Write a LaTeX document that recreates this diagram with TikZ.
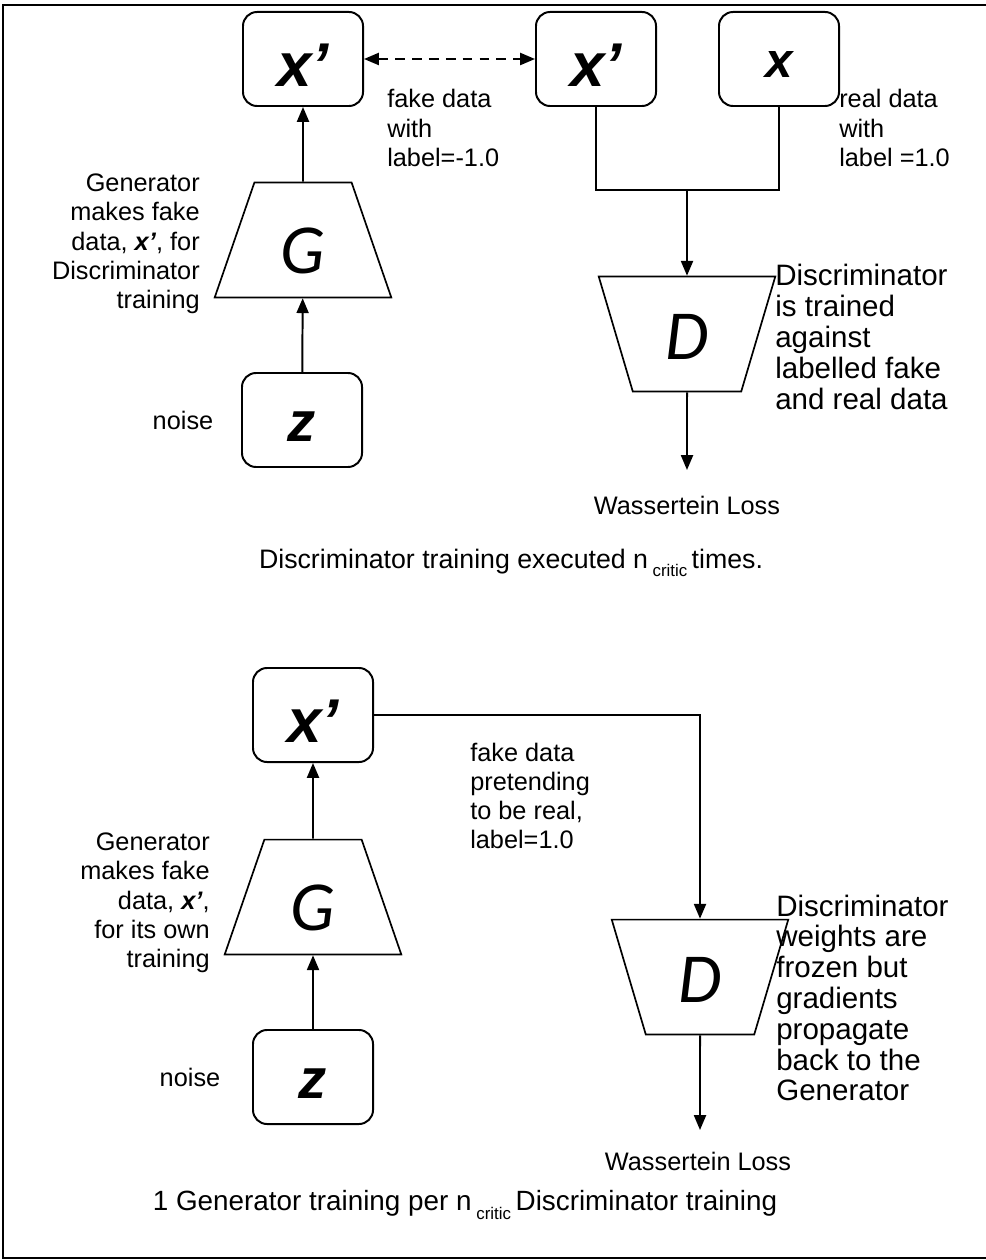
\documentclass[tikz,border=0pt]{standalone}
\usepackage{fontspec}
\setmainfont{Liberation Sans}
\newfontfamily\netfont{Carlito}
\usetikzlibrary{arrows.meta,positioning,shapes.geometric}
\tikzset{
  varbox/.style={draw,line width=1.4pt,rounded corners=10pt,minimum width=3cm,
    minimum height=2.35cm,inner sep=0pt,text depth=0pt,font=\bfseries\itshape},
  netbox/.style={draw,line width=1.2pt,trapezium,trapezium left angle=75,
    trapezium right angle=75,trapezium stretches=true,minimum width=4.43cm,
    minimum height=2.87cm,inner sep=0pt,text depth=0pt,font=\netfont\fontsize{50}{50}\selectfont\itshape},
  note/.style={inner sep=0pt,font=\fontsize{18}{20.8}\selectfont},
  bignote/.style={inner sep=0pt,font=\fontsize{21}{21.9}\selectfont},
  caption/.style={inner sep=0pt,font=\fontsize{19}{21}\selectfont},
  flowarrow/.style={-{Triangle[length=10.5pt,width=8.5pt]},line width=1.4pt},
  plainline/.style={line width=1.4pt}
}
\newcommand\bigx{\fontsize{44}{44}\selectfont}
\newcommand\midx{\fontsize{35}{35}\selectfont}
\newcommand\bigz{\fontsize{40}{40}\selectfont}
\newcommand\ncrit{n\,\raisebox{-0.55ex}{\fontsize{12}{12}\selectfont critic}\,}
\begin{document}
\begin{tikzpicture}[x=0.025cm,y=-0.025cm]
\useasboundingbox (0,0) rectangle (985,1260);
\draw[line width=1pt] (995,5) -- (3,5) -- (3,1258) -- (995,1258);
% discriminator training
\node[varbox,text height=39pt] (xfakeG) at (303,59) {\bigx x’};
\node[varbox,text height=39pt] (xfakeD) at (596,59) {\bigx x’};
\node[varbox,text height=26pt] (xreal) at (779,59) {\midx x};
\node[netbox,text height=48pt] (genA) at (303,240) {G};
\node[varbox,text height=30pt] (zA) at (302,420) {\bigz z};
\node[netbox,shape border rotate=180,text height=36pt] (discA) at (687,334) {D};
\coordinate (joinA) at (687,190);
\coordinate (outA) at (687,470);
\draw[flowarrow] (zA) -- (genA);
\draw[flowarrow] (genA) -- (xfakeG);
\draw[flowarrow,dash pattern=on 7pt off 5pt,{Triangle[length=10.5pt,width=8.5pt]}-{Triangle[length=10.5pt,width=8.5pt]}] (xfakeG) -- (xfakeD);
\draw[plainline] (xfakeD.south) |- (joinA) -| (xreal.south);
\draw[flowarrow] (joinA) -- (discA.north);
\draw[flowarrow] (discA.south) -- (outA);
\node[note,anchor=west,align=left] (fakeA) at (387,128) {fake data\\with\\label=-1.0};
\node[note,anchor=west,align=left] (realA) at (839,128) {real data\\with\\label =1.0};
\node[note,anchor=east,align=right] (genTextA) at (200,244) {Generator\\makes fake\\data, \textbf{\textit{x’}}, for\\Discriminator\\training};
\node[note] (noiseA) at (183,420) {noise};
\node[bignote,anchor=west,align=left] (discTextA) at (775,337) {Discriminator\\is trained\\against\\labelled fake\\and real data};
\node[note] (lossA) at (687,505) {Wassertein Loss};
\node[caption] (captionA) at (511,563) {Discriminator training executed \ncrit times.};
% generator training
\node[varbox,text height=39pt] (xfakeB) at (313,715) {\bigx x’};
\node[netbox,text height=48pt] (genB) at (313,897) {G};
\node[varbox,text height=30pt] (zB) at (313,1077) {\bigz z};
\node[netbox,shape border rotate=180,text height=36pt] (discB) at (700,977) {D};
\coordinate (outB) at (700,1130);
\draw[flowarrow] (zB) -- (genB);
\draw[flowarrow] (genB) -- (xfakeB);
\draw[flowarrow] (xfakeB.east) -| (discB.north);
\draw[flowarrow] (discB.south) -- (outB);
\node[note,anchor=west,align=left] (fakeB) at (470,796) {fake data\\pretending\\to be real,\\label=1.0};
\node[note,anchor=east,align=right] (genTextB) at (210,903) {Generator\\makes fake\\data, \textbf{\textit{x’}},\\for its own\\training};
\node[note] (noiseB) at (190,1077) {noise};
\node[bignote,anchor=west,align=left] (discTextB) at (776,998) {Discriminator\\weights are\\frozen but\\gradients\\propagate\\back to the\\Generator};
\node[note] (lossB) at (698,1161) {Wassertein Loss};
\node[caption,font=\fontsize{19.8}{21}\selectfont] (captionB) at (465,1205) {1 Generator training per \ncrit Discriminator training};
\end{tikzpicture}
\end{document}
